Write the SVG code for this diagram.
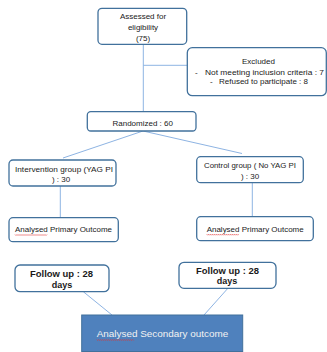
<svg xmlns="http://www.w3.org/2000/svg" width="327" height="352" viewBox="0 0 327 352">
<style>
.box{fill:#fff;stroke:#41719C;stroke-width:1.3}
.ln{stroke:#8EB4E3;stroke-width:1;fill:none}
.t{font-family:"Liberation Sans",Arial,sans-serif;font-size:8px;fill:#1a1a1a}
.b{font-weight:bold;font-size:9px}
.sq{stroke:#e03030;stroke-width:0.6;fill:none}
</style>
<rect width="327" height="352" fill="#fff"/>
<g id="connectors">
<path class="ln" d="M143.3,44.3 V112 M143.3,65.3 H187.5"/>
<path class="ln" d="M143,131 L63,158 M143,131 L242,153.5"/>
<path class="ln" d="M60.3,186 V217.7 M252.3,182.7 V216.7"/>
<path class="ln" d="M83.3,291.7 L112,315 M227.7,288.5 L204,315"/>
</g>
<g id="assessed">
<rect class="box" x="98" y="8.3" width="88.7" height="36" rx="4"/>
<text class="t" x="143" y="19" text-anchor="middle">Assessed  for</text>
<text class="t" x="143" y="29.5" text-anchor="middle">eligibility</text>
<text class="t" x="143" y="40.5" text-anchor="middle">(75)</text>
</g>
<g id="excluded">
<rect class="box" x="187.3" y="47.7" width="139" height="48" rx="5"/>
<text class="t" x="258.5" y="64" text-anchor="middle">Excluded</text>
<text class="t" x="195" y="74.5">-</text>
<text class="t" x="205" y="74.5" textLength="119" lengthAdjust="spacingAndGlyphs">Not meeting inclusion criteria : 7</text>
<text class="t" x="210" y="84">-</text>
<text class="t" x="219" y="84" textLength="89" lengthAdjust="spacingAndGlyphs">Refused to participate : 8</text>
</g>
<g id="randomized">
<rect class="box" x="87.3" y="111.7" width="108.7" height="19.3" rx="3.5"/>
<text class="t" x="142.7" y="125.7" text-anchor="middle">Randomized : 60</text>
</g>
<g id="intervention">
<rect class="box" x="9" y="160" width="107" height="26" rx="4"/>
<text class="t" x="15" y="172.3" textLength="98" lengthAdjust="spacingAndGlyphs">Intervention  group (YAG PI</text>
<text class="t" x="61" y="182" text-anchor="middle">) : 30</text>
</g>
<g id="control">
<rect class="box" x="196.7" y="156.7" width="106.6" height="26" rx="4"/>
<text class="t" x="204" y="168" textLength="92" lengthAdjust="spacingAndGlyphs">Control group ( No YAG PI</text>
<text class="t" x="250" y="179" text-anchor="middle">) : 30</text>
</g>
<g id="analysed-left">
<rect class="box" x="9" y="217.7" width="109.3" height="24" rx="4"/>
<text class="t" x="15" y="232.3" textLength="97" lengthAdjust="spacingAndGlyphs">Analysed Primary  Outcome</text>
<path class="sq" d="M15,234.5 l1,1 l1,-1 l1,1 l1,-1 l1,1 l1,-1 l1,1 l1,-1 l1,1 l1,-1 l1,1 l1,-1 l1,1 l1,-1 l1,1 l1,-1 l1,1 l1,-1 l1,1 l1,-1 l1,1 l1,-1 l1,1 l1,-1 l1,1 l1,-1 l1,1 l1,-1 l1,1 l1,-1 l1,1 l1,-1"/>
</g>
<g id="analysed-right">
<rect class="box" x="196.7" y="216.7" width="116.6" height="24" rx="4"/>
<text class="t" x="206.7" y="232" textLength="97" lengthAdjust="spacingAndGlyphs">Analysed Primary  Outcome</text>
<path class="sq" d="M206.7,234.2 l1,1 l1,-1 l1,1 l1,-1 l1,1 l1,-1 l1,1 l1,-1 l1,1 l1,-1 l1,1 l1,-1 l1,1 l1,-1 l1,1 l1,-1 l1,1 l1,-1 l1,1 l1,-1 l1,1 l1,-1 l1,1 l1,-1 l1,1 l1,-1 l1,1 l1,-1 l1,1 l1,-1 l1,1 l1,-1"/>
</g>
<g id="followup-left">
<rect class="box" x="15" y="265" width="94" height="26.7" rx="5"/>
<text class="t b" x="30" y="277.3" textLength="63" lengthAdjust="spacingAndGlyphs">Follow up  :  28</text>
<text class="t b" x="62" y="287.5" text-anchor="middle">days</text>
</g>
<g id="followup-right">
<rect class="box" x="179" y="262.3" width="97" height="26" rx="5"/>
<text class="t b" x="196" y="274" textLength="63" lengthAdjust="spacingAndGlyphs">Follow up  :  28</text>
<text class="t b" x="227" y="284.3" text-anchor="middle">days</text>
</g>
<g id="secondary">
<rect x="81.7" y="315" width="161" height="36.5" fill="#4F81BD" stroke="#41719C" stroke-width="1"/>
<text class="t" x="96.7" y="337.3" style="font-size:9.5px;fill:#f2f2f2" textLength="131.5" lengthAdjust="spacingAndGlyphs">Analysed Secondary  outcome</text>
<path class="sq" d="M96.7,339.5 l1,1 l1,-1 l1,1 l1,-1 l1,1 l1,-1 l1,1 l1,-1 l1,1 l1,-1 l1,1 l1,-1 l1,1 l1,-1 l1,1 l1,-1 l1,1 l1,-1 l1,1 l1,-1 l1,1 l1,-1 l1,1 l1,-1 l1,1 l1,-1 l1,1 l1,-1 l1,1 l1,-1 l1,1 l1,-1 l1,1 l1,-1 l1,1 l1,-1 l1,1"/>
</g>
</svg>
